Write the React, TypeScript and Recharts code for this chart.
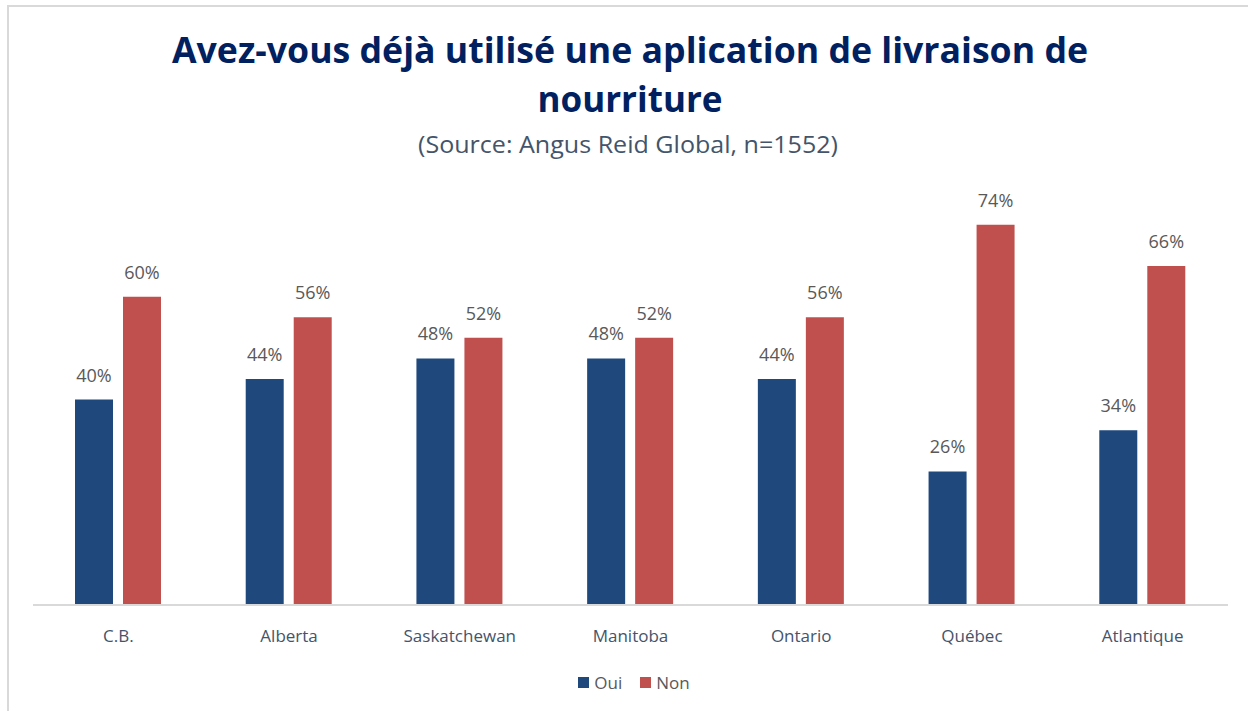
import React from "react";
import { BarChart, Bar, XAxis, YAxis, LabelList } from "recharts";

const categories = ["C.B.", "Alberta", "Saskatchewan", "Manitoba", "Ontario", "Québec", "Atlantique"];
const ouiValues = [40, 44, 48, 48, 44, 26, 34];
const nonValues = [60, 56, 52, 52, 56, 74, 66];
const seriesNames = ["Oui", "Non"];
const seriesColors = ["#1F497D", "#C0504D"];

const data = categories.map((c, i) => ({ name: c, oui: ouiValues[i], non: nonValues[i] }));

const FONT = "'Open Sans', 'Noto Sans', sans-serif";

const pct = (v: any) => `${v}%`;

const LegendContent = () => (
  <div style={{ display: "flex", justifyContent: "center", alignItems: "center", fontFamily: FONT, fontSize: 17, color: "#595959" }}>
    {seriesNames.map((n, i) => (
      <div key={n} style={{ display: "flex", alignItems: "center", marginRight: i === 0 ? 18 : 0 }}>
        <span style={{ display: "inline-block", width: 11, height: 11, background: seriesColors[i], marginRight: 5 }} />
        <span>{n}</span>
      </div>
    ))}
  </div>
);

export default function App() {
  return (
    <div style={{ position: "fixed", left: 0, top: 0, width: 1248, height: 711, background: "#fff", overflow: "hidden" }}>
      <div style={{ position: "absolute", left: 7, top: 5, right: -10, bottom: -10, borderTop: "2px solid #D9D9D9", borderLeft: "2px solid #D9D9D9" }} />
      <BarChart
        width={1248}
        height={711}
        data={data}
        margin={{ top: 194, right: 20, left: 33, bottom: 76 }}
        barCategoryGap="24.8%"
        barGap={10}
      >
        <XAxis
          dataKey="name"
          height={30}
          axisLine={{ stroke: "#D9D9D9", strokeWidth: 2 }}
          tickLine={false}
          tickSize={0}
          tickMargin={25}
          tick={{ fill: "#44546A", fontSize: 17, fontFamily: FONT }}
          interval={0}
        />
        <YAxis hide domain={[0, 80]} />
        <Bar dataKey="oui" name="Oui" fill={seriesColors[0]} barSize={38} isAnimationActive={false}>
          <LabelList dataKey="oui" position="top" offset={18} formatter={pct} fill="#595959" fontSize={18} fontFamily={FONT} />
        </Bar>
        <Bar dataKey="non" name="Non" fill={seriesColors[1]} barSize={38} isAnimationActive={false}>
          <LabelList dataKey="non" position="top" offset={18} formatter={pct} fill="#595959" fontSize={18} fontFamily={FONT} />
        </Bar>
      </BarChart>
      <div style={{ position: "absolute", left: 10, width: 1248, top: 671 }}>
        <LegendContent />
      </div>
      <svg width={1248} height={180} style={{ position: "absolute", left: 0, top: 0, pointerEvents: "none" }}>
        <text x={630} y={63} textAnchor="middle" fontFamily={FONT} fontWeight={700} fontSize={35} fill="#002060" textLength={916} lengthAdjust="spacingAndGlyphs">
          Avez-vous déjà utilisé une aplication de livraison de
        </text>
        <text x={630} y={112} textAnchor="middle" fontFamily={FONT} fontWeight={700} fontSize={35} fill="#002060" textLength={185} lengthAdjust="spacingAndGlyphs">
          nourriture
        </text>
        <text x={628} y={153} textAnchor="middle" fontFamily={FONT} fontSize={24} fill="#44546A" textLength={420} lengthAdjust="spacingAndGlyphs">
          (Source: Angus Reid Global, n=1552)
        </text>
      </svg>
    </div>
  );
}
